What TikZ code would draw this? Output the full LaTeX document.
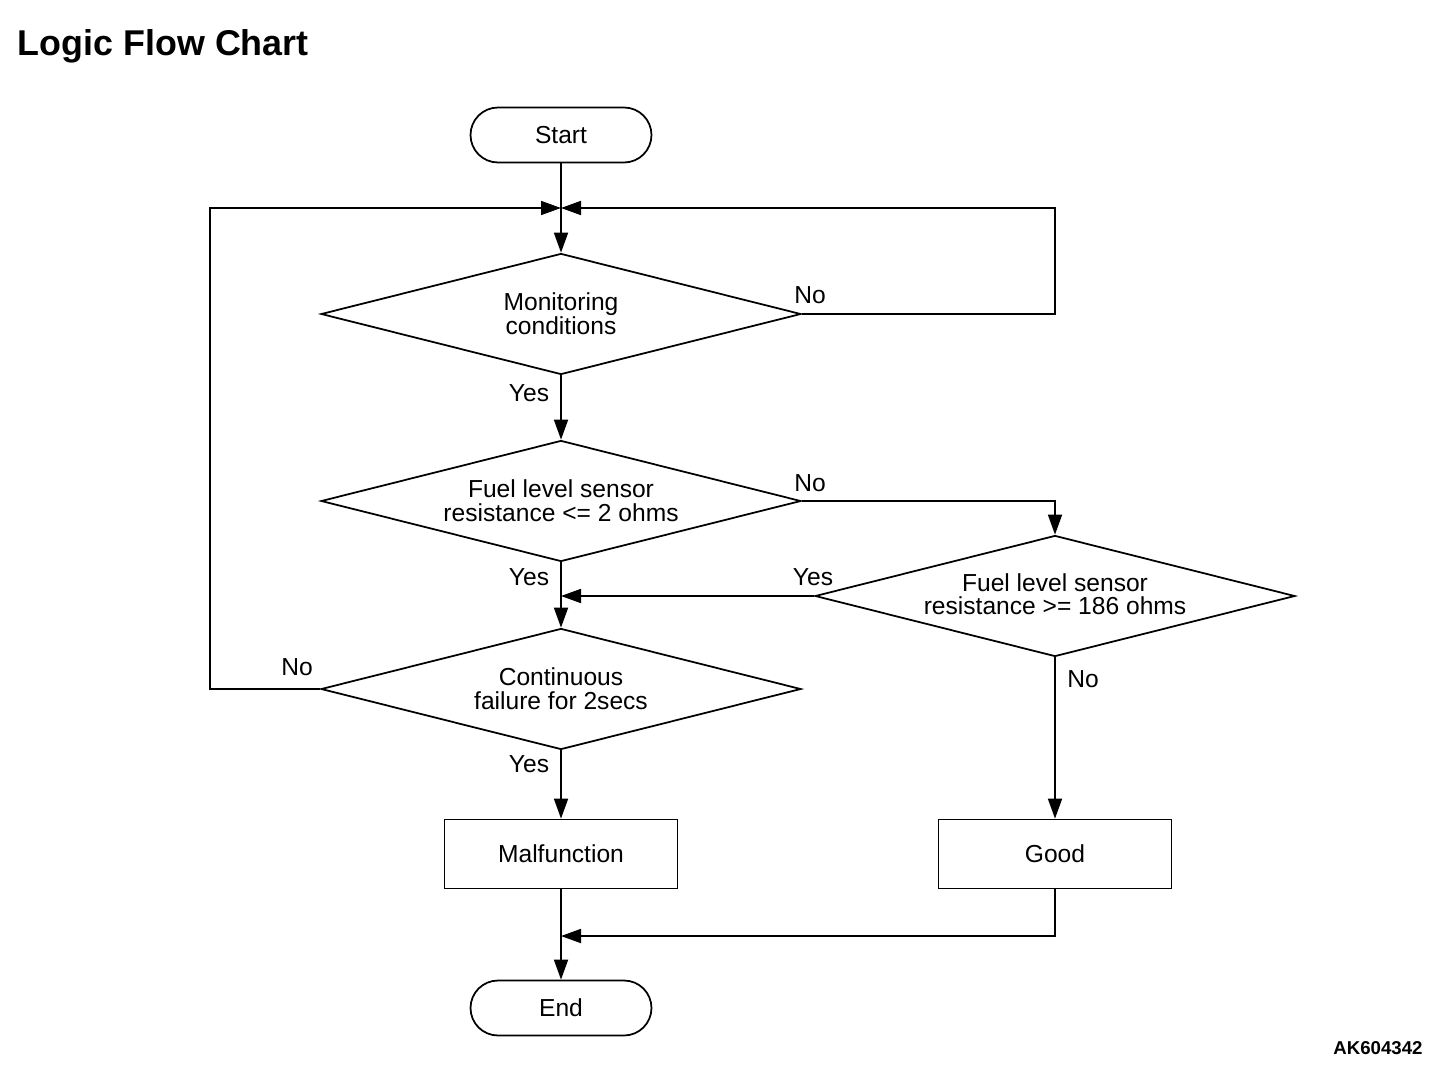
\documentclass[tikz,border=0pt]{standalone}
\usepackage{fontspec}
\setmainfont{Liberation Sans}
\usepackage{tikz}
\usetikzlibrary{shapes.geometric, arrows.meta}

\tikzset{
    term/.style={draw, rectangle, rounded corners=0.55cm, minimum width=3.62cm, minimum height=1.1cm, inner sep=0pt},
    box/.style={draw, rectangle, minimum width=4.66cm, minimum height=1.38cm, inner sep=0pt},
    decision/.style={draw, diamond, aspect=4, minimum width=9.6cm, minimum height=2.42cm, inner sep=0pt, align=center},
    lbl/.style={inner sep=0pt},
}

\begin{document}
\begin{tikzpicture}[x=0.02cm, y=-0.02cm, line width=1pt, >={Triangle[length=0.4cm, width=0.28cm]},
    font=\fontsize{14}{13.6}\selectfont]
        \useasboundingbox (0, 0) rectangle (1456, 1078);

        \node [lbl, anchor=west, font=\fontsize{20.4}{24}\selectfont\bfseries] (title) at (17, 46) {Logic Flow Chart};
        \node [lbl, font=\fontsize{10.6}{12}\selectfont\bfseries] (code) at (1378, 1048) {AK604342};

        \node [term] (S) at (561, 135) {Start};
        \node [decision] (D1) at (561, 314) {Monitoring\\conditions};
        \node [decision] (D2) at (561, 501) {Fuel level sensor\\resistance <= 2 ohms};
        \node [decision] (D3) at (1055, 596) {Fuel level sensor\\resistance >= 186 ohms\\[-0.4cm]};
        \node [decision] (D4) at (561, 689) {Continuous\\failure for 2secs};
        \node [box] (M) at (561, 854) {Malfunction};
        \node [box] (G) at (1055, 854) {Good};
        \node [term] (E) at (561, 1008) {End};

        \coordinate (J) at (561, 208);
        \coordinate (R1) at (1055, 208);
        \coordinate (L1) at (210, 208);
        \coordinate (K) at (561, 936);

        \draw [->] (S) -- (D1);
        \draw [->] (D1.east) -| (R1) -- (J);
        \draw [->] (D1) -- (D2);
        \draw [->] (D2.east) -| (D3.north);
        \draw [->] (D3.west) -- (D2.south |- D3.west);
        \draw [->] (D2) -- (D4);
        \draw [->] (D4.west) -| (L1) -- (J);
        \draw [->] (D4) -- (M);
        \draw [->] (D3) -- (G);
        \draw [->] (M) -- (E);
        \draw [->] (G.south) |- (K);

        \node [lbl] (n1) at (810, 295) {No};
        \node [lbl] (y1) at (529, 393) {Yes};
        \node [lbl] (n2) at (810, 483) {No};
        \node [lbl] (y3) at (813, 577) {Yes};
        \node [lbl] (y2) at (529, 577) {Yes};
        \node [lbl] (n4) at (297, 667) {No};
        \node [lbl] (y4) at (529, 764) {Yes};
        \node [lbl] (n3) at (1083, 679) {No};
    \end{tikzpicture}
\end{document}
